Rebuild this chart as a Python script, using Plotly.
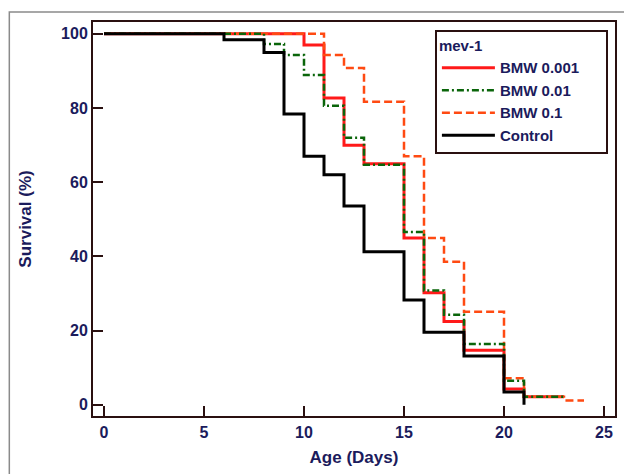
import plotly.graph_objects as go

# Data
control_days = [0, 6, 8, 9, 10, 11, 12, 13, 15, 16, 18, 20, 21]
control_surv = [100, 98.4, 95, 78.4, 67, 62, 53.6, 41.3, 28.3, 19.6, 13.2, 3.5, 0]

bmw0001_days = [0, 10, 11, 12, 13, 15, 16, 17, 18, 20, 21, 23]
bmw0001_surv = [100, 97, 82.7, 70, 65, 45, 30.2, 22.5, 14.7, 4.3, 2.2, 2.2]

bmw001_days = [0, 8, 9, 10, 11, 12, 13, 15, 16, 17, 18, 20, 21, 23]
bmw001_surv = [100, 97.3, 94.3, 88.9, 80.6, 72, 64.7, 46.6, 30.8, 24.3, 16.4, 6.5, 2.2, 2.2]

bmw01_days = [0, 11, 12, 13, 15, 16, 17, 18, 20, 21, 23, 24]
bmw01_surv = [100, 94.3, 90.8, 81.7, 67, 45, 38.6, 25.1, 7.2, 2.2, 1.2, 1.2]

x_ticks = [0, 5, 10, 15, 20, 25]
y_ticks = [0, 20, 40, 60, 80, 100]

NAVY = "#1b1b5c"
FRAME = "#2a1010"
FONT = "Liberation Sans, Arial, sans-serif"
PAD = "\u00a0" * 5

fig = go.Figure()
fig.add_trace(go.Scatter(x=bmw0001_days, y=bmw0001_surv, mode="lines", line_shape="hv",
                         name="BMW 0.001" + PAD, legendrank=1,
                         line=dict(color="#ff1a1a", width=3)))
fig.add_trace(go.Scatter(x=bmw01_days, y=bmw01_surv, mode="lines", line_shape="hv",
                         name="BMW 0.1", legendrank=3,
                         line=dict(color="#ff4a12", width=2.5, dash="8px,4px")))
fig.add_trace(go.Scatter(x=bmw001_days, y=bmw001_surv, mode="lines", line_shape="hv",
                         name="BMW 0.01", legendrank=2,
                         line=dict(color="#0a650a", width=2.5, dash="7px,3px,2px,3px")))
fig.add_trace(go.Scatter(x=control_days, y=control_surv, mode="lines", line_shape="hv",
                         name="Control", legendrank=4,
                         line=dict(color="#000000", width=3)))

axis_common = dict(showline=True, linecolor=FRAME, linewidth=2, mirror=True,
                   ticks="inside", ticklen=10, tickwidth=2, tickcolor=FRAME,
                   showgrid=False, zeroline=False,
                   tickfont=dict(family=FONT, size=16, color=NAVY, weight="bold"))

fig.update_layout(
    width=624, height=474,
    margin=dict(l=93, r=7, t=22, b=58),
    plot_bgcolor="white", paper_bgcolor="white",
    xaxis=dict(range=[-0.55, 25.55], tickvals=x_ticks, ticklabelstandoff=1,
               title=dict(text="Age (Days)", standoff=11,
                          font=dict(family=FONT, size=17, color=NAVY, weight="bold")),
               **axis_common),
    yaxis=dict(range=[-3, 103.2], tickvals=y_ticks,
               title=dict(text="Survival (%)", standoff=25,
                          font=dict(family=FONT, size=17, color=NAVY, weight="bold")),
               **axis_common),
    legend=dict(x=0.655, y=0.98, xanchor="left", yanchor="top",
                bgcolor="white", bordercolor=FRAME, borderwidth=2,
                font=dict(family=FONT, size=15, color=NAVY, weight="bold"),
                title=dict(text="mev-1", font=dict(family=FONT, size=15, color=NAVY, weight="bold")),
                itemwidth=53, tracegroupgap=0),
    shapes=[dict(type="rect", xref="paper", yref="paper",
                 x0=-0.1603, y0=-0.3, x1=1.2, y1=1.0254,
                 line=dict(color="#8a8a8a", width=1.5), layer="below")],
)

fig.write_html("out.html", config={"displayModeBar": False},
               post_script="document.body.style.margin='0';")
